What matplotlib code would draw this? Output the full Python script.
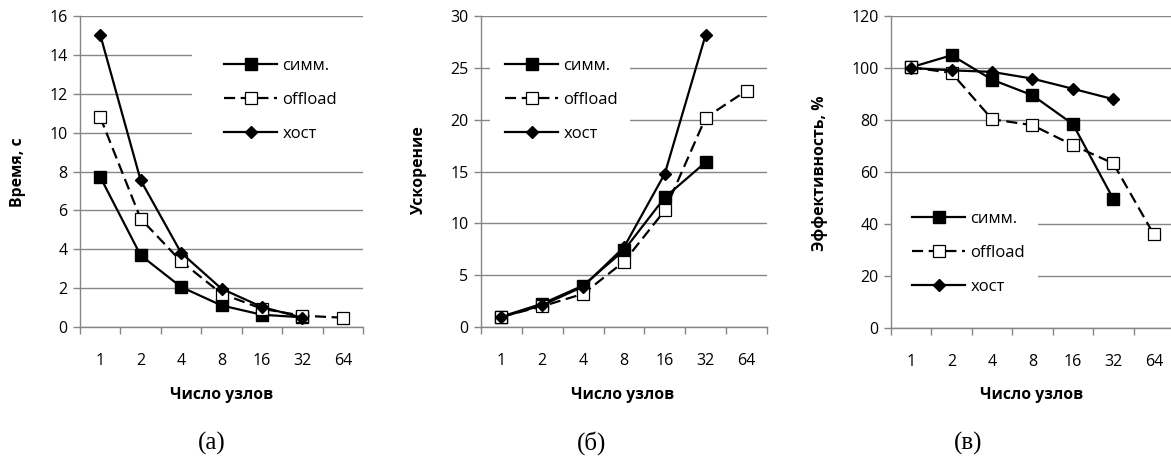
import matplotlib
matplotlib.use("Agg")
import matplotlib.pyplot as plt
from matplotlib.patches import Rectangle
import numpy as np

plt.rcParams['font.family'] = ['Open Sans', 'DejaVu Sans']
plt.rcParams['lines.scale_dashes'] = False

nodes = ['1', '2', '4', '8', '16', '32', '64']

time_simm = [7.72, 3.69, 2.06, 1.11, 0.63, 0.50]
time_offload = [10.8, 5.57, 3.38, 1.72, 0.94, 0.58, 0.48]
time_host = [15.04, 7.55, 3.82, 1.97, 1.03, 0.48]

speed_simm = [1.0, 2.25, 4.0, 7.4, 12.5, 15.9]
speed_offload = [1.0, 2.0, 3.2, 6.3, 11.25, 20.2, 22.8]
speed_host = [0.95, 2.1, 3.9, 7.7, 14.8, 28.2]

eff_simm = [100.3, 104.9, 95.5, 89.5, 78.4, 49.6]
eff_offload = [100.3, 98.1, 80.3, 78.0, 70.3, 63.3, 36.0]
eff_host = [100.0, 99.1, 98.5, 95.9, 92.0, 88.0]

labels = ['симм.', 'offload', 'хост']
ylabels = ['Время, с', 'Ускорение', 'Эффективность, %']
captions = ['(а)', '(б)', '(в)']
xlabel = 'Число узлов'
ylims = [(0, 16, 2), (0, 30, 5), (0, 120, 20)]

W, H = 1171, 472
fig = plt.figure(figsize=(W / 100, H / 100), dpi=100)

# axes rectangles in pixels: left, right, top, bottom
rects = [(80, 363, 16, 327), (481, 767, 16, 327), (891, 1174, 16, 328)]
# legend: handle start x, first entry y, plus white box (x0, x1, y0, y1) in px
legs = [
    (224, 65, (192, 363, 35, 160)),
    (505, 65, (490, 630, 35, 158)),
    (912, 218, (891, 1038, 190, 305)),
]
ylabel_pos = [(18, 172), (419, 171), (820, 173)]
xlabel_pos = [(222, 395), (623, 395), (1032, 395)]
cap_pos = [(212, 443), (592, 443), (968, 443)]

series = [
    (time_simm, time_offload, time_host),
    (speed_simm, speed_offload, speed_host),
    (eff_simm, eff_offload, eff_host),
]
gray = '#868686'
for i in range(3):
    l, r, t, b = rects[i]
    ax = fig.add_axes([l / W, 1 - b / H, (r - l) / W, (b - t) / H])
    ymin, ymax, step = ylims[i]
    ax.set_ylim(ymin, ymax)
    ax.set_xlim(-0.5, 6.5)
    ax.set_yticks(np.arange(ymin, ymax + step / 2, step))
    ax.set_xticks(range(7))
    ax.set_xticklabels(nodes)
    ax.set_xticks(np.arange(-0.5, 7, 1), minor=True)
    ax.tick_params(axis='x', which='major', length=0, pad=18.5, labelsize=11.5, colors='black')
    ax.tick_params(axis='x', which='minor', length=5, width=1, color=gray, direction='out')
    ax.tick_params(axis='y', length=5, width=1, color=gray, direction='out', pad=4, labelsize=11.5)
    ax.grid(axis='y', color=gray, linewidth=1)
    ax.set_axisbelow(True)
    for s in ['top', 'right']:
        ax.spines[s].set_visible(False)
    for s in ['left', 'bottom']:
        ax.spines[s].set_color(gray)
        ax.spines[s].set_linewidth(1)

    s_simm, s_off, s_host = series[i]
    x1 = np.arange(len(s_simm))
    x2 = np.arange(len(s_off))
    x3 = np.arange(len(s_host))
    h1, = ax.plot(x1, s_simm, color='black', lw=1.6, marker='s', ms=9.3,
                  mfc='black', mec='black', zorder=3, label=labels[0], clip_on=False)
    h2, = ax.plot(x2, s_off, color='black', lw=1.6, dashes=(8, 4), marker='s', ms=9.3,
                  mfc='white', mec='black', mew=0.9, zorder=3, label=labels[1], clip_on=False)
    h3, = ax.plot(x3, s_host, color='black', lw=1.6, marker='D', ms=6.6,
                  mfc='black', mec='black', zorder=4, label=labels[2], clip_on=False)

    hx, hy, box = legs[i]
    bx0, bx1, by0, by1 = box
    ax.add_patch(Rectangle(((bx0 - l) / (r - l), 1 - (by1 - t) / (b - t)),
                           (bx1 - bx0) / (r - l), (by1 - by0) / (b - t),
                           transform=ax.transAxes, facecolor='white',
                           edgecolor='none', zorder=1))
    ax.legend(handles=[h1, h2, h3], loc='upper left',
              bbox_to_anchor=((hx - l) / (r - l), 1 - (hy - 7 - t) / (b - t)),
              frameon=False, fontsize=12, handlelength=3.2,
              handletextpad=0.3, labelspacing=1.08, borderpad=0,
              borderaxespad=0, numpoints=1)

    yx, yy = ylabel_pos[i]
    fig.text(yx / W, 1 - yy / H, ylabels[i], rotation=90, ha='center', va='center',
             fontsize=11.3, fontweight='bold')
    xx, xy = xlabel_pos[i]
    fig.text(xx / W, 1 - xy / H, xlabel, ha='center', va='center',
             fontsize=11.3, fontweight='bold')
    cx, cy = cap_pos[i]
    fig.text(cx / W, 1 - cy / H, captions[i], ha='center', va='center',
             fontsize=18, family='Liberation Serif')

fig.savefig('out.png', dpi=100)
